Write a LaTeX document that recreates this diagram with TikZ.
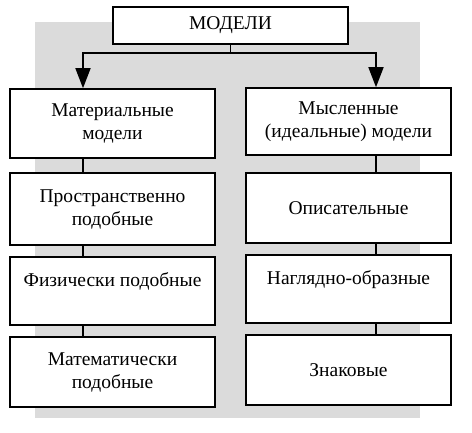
\documentclass[tikz,border=0pt]{standalone}
\usepackage{fontspec}
\setmainfont{Liberation Serif}
\usetikzlibrary{arrows.meta}

\begin{document}
\begin{tikzpicture}[
    x=1pt, y=-1pt,
    box/.style={draw, fill=white, line width=1.6pt, align=center, inner sep=0pt,
        minimum width=205pt, font=\rmfamily\fontsize{19.5}{23}\selectfont},
    topbox/.style={box, minimum width=235pt, minimum height=37pt},
    link/.style={line width=1.6pt},
    arr/.style={link, -{Triangle[length=20pt, width=15pt]}}
]
\useasboundingbox (0,0) rectangle (472,432);

% ---- shadow ----
\fill[black!14] (35,22) rectangle (420,418);

% ---- nodes ----
\node[topbox] (top) at (230.5,25.5) {МОДЕЛИ};

\node[box, minimum height=69pt] (mat) at (112.5,123.5) {Материальные\\модели};
\node[box, minimum height=72pt] (prost) at (112.5,209) {Пространственно\\подобные};
\node[box, minimum height=68pt] (fiz) at (112.5,291) {Физически подобные\\~};
\node[box, minimum height=70pt] (matem) at (112.5,372) {Математически\\подобные};

\node[box, minimum height=67pt] (mysl) at (348.5,121.5) {Мысленные\\(идеальные) модели};
\node[box, minimum height=70pt] (opis) at (348.5,208) {Описательные};
\node[box, minimum height=68pt] (nagl) at (348.5,289) {Наглядно-образные\\~};
\node[box, minimum height=70pt] (znak) at (348.5,370) {Знаковые};

% ---- edges ----
\coordinate (lx) at (83,0);
\coordinate (rx) at (376,0);
\coordinate (fork) at (230.5,53);

\draw[link] (top) -- (fork);
\draw[arr] (fork) -| (mat.north -| lx);
\draw[arr] (fork) -| (mysl.north -| rx);

\draw[link] (mat.south -| lx) -- (prost.north -| lx);
\draw[link] (prost.south -| lx) -- (fiz.north -| lx);
\draw[link] (fiz.south -| lx) -- (matem.north -| lx);

\draw[link] (mysl.south -| rx) -- (opis.north -| rx);
\draw[link] (opis.south -| rx) -- (nagl.north -| rx);
\draw[link] (nagl.south -| rx) -- (znak.north -| rx);

\end{tikzpicture}
\end{document}
